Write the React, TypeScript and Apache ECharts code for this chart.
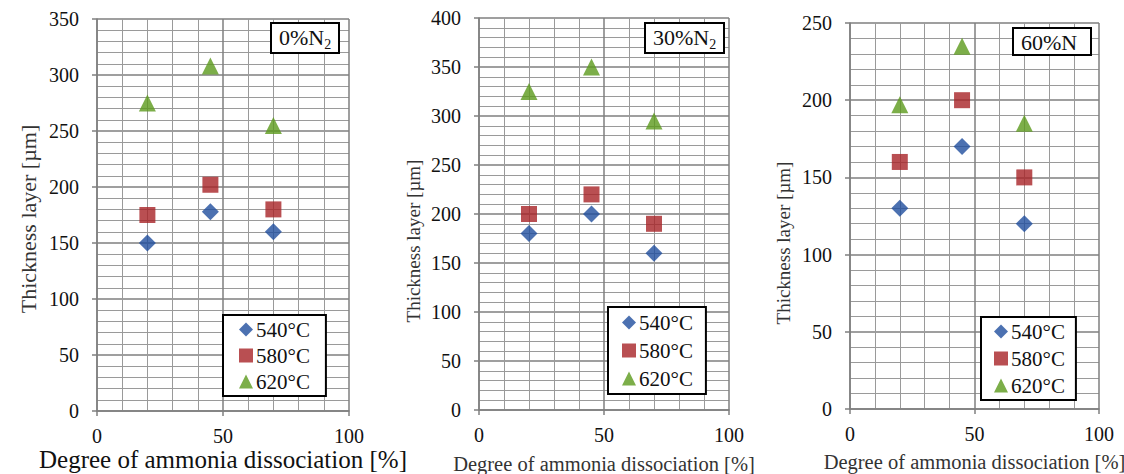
import React, { useEffect, useRef } from "react";
import * as echarts from "echarts";

// ---- data ----
const dissociation = [20, 45, 70];
const seriesNames = ["540°C", "580°C", "620°C"];
const seriesSymbols = ["diamond", "rect", "triangle"];
const seriesColors = ["#1F4E9E", "#A82327", "#5B9A1B"];

const n0_540 = [150, 178, 160];
const n0_580 = [175, 202, 180];
const n0_620 = [275, 308, 255];

const n30_540 = [180, 200, 160];
const n30_580 = [200, 220, 190];
const n30_620 = [325, 350, 295];

const n60_540 = [130, 170, 120];
const n60_580 = [160, 200, 150];
const n60_620 = [197, 235, 185];

const panelValues = [
  [n0_540, n0_580, n0_620],
  [n30_540, n30_580, n30_620],
  [n60_540, n60_580, n60_620],
];
const panelTitles = ["{n|0%N}{sub|2}", "{n|30%N}{sub|2}", "{n|60%N}"];
const yMaxes = [350, 400, 250];
const xMin = 0;
const xMax = 100;
const majorStep = 50;
const xAxisTitle = "Degree of ammonia dissociation [%]";
const yAxisTitle = "Thickness layer [µm]";

// ---- layout ----
const FONT = "'Liberation Serif', 'Times New Roman', serif";
const grids = [
  { left: 97, top: 19, width: 252, height: 392 },
  { left: 479, top: 18, width: 250, height: 392 },
  { left: 850, top: 23, width: 249, height: 386 },
];
const xNameFont = [25, 20.5, 20.5];
const xNameLineHeight = [24, 21, 21];
const yNameFont = [22, 19, 19];
const xNameGap = [36, 43, 42];
const yNameGap = [58, 56, 57];
const yNameShift = [8, 54, 54];
const titleBoxes = [
  { left: 271, top: 23, padding: [3, 8, 2, 8] },
  { left: 645, top: 23, padding: [3, 8, 2, 8] },
  { left: 1013, top: 28, padding: [3, 14, 2, 8] },
];
const legendBoxes = [
  { left: 223, top: 315, padding: [4, 16, 4, 16], itemGap: 5 },
  { left: 608, top: 307, padding: [5, 13, 5, 14], itemGap: 7 },
  { left: 981, top: 317, padding: [4, 11, 4, 13], itemGap: 6 },
];

export default function App() {
  const ref = useRef<HTMLDivElement>(null);
  useEffect(() => {
    document.body.style.margin = "0";
    const chart = echarts.init(ref.current!, undefined, { renderer: "svg" });
    const gridLine = { lineStyle: { color: "#7f7f7f", width: 1.5 } };
    const minorLine = { lineStyle: { color: "#9a9a9a", width: 1 } };
    const axisLine = { show: true, lineStyle: { color: "#7f7f7f", width: 1.5 } };
    const axisTick = { show: true, length: 5, lineStyle: { color: "#7f7f7f", width: 1.5 } };

    const xAxis = grids.map((_, i) => ({
      type: "value",
      gridIndex: i,
      min: xMin,
      max: xMax,
      interval: majorStep,
      name: xAxisTitle,
      nameLocation: "middle",
      nameGap: xNameGap[i],
      nameMoveOverlap: false,
      nameTextStyle: {
        fontFamily: FONT,
        fontSize: xNameFont[i],
        lineHeight: xNameLineHeight[i],
        color: i === 0 ? "#111" : "#333",
      },
      axisLine,
      axisTick,
      axisLabel: { fontFamily: FONT, fontSize: 20, lineHeight: 16, color: "#111", margin: 17 },
      splitLine: { show: true, ...gridLine },
      minorTick: { show: false, splitNumber: 5 },
      minorSplitLine: { show: true, ...minorLine },
    }));
    const yAxis = grids.map((_, i) => ({
      type: "value",
      gridIndex: i,
      min: 0,
      max: yMaxes[i],
      interval: majorStep,
      name: yAxisTitle,
      nameLocation: "middle",
      nameGap: yNameGap[i],
      nameMoveOverlap: false,
      nameTextStyle: {
        fontFamily: FONT,
        fontSize: yNameFont[i],
        color: "#333",
        padding: [0, yNameShift[i], 0, 0],
      },
      axisLine,
      axisTick,
      axisLabel: { fontFamily: FONT, fontSize: 20, color: "#111", margin: 18 },
      splitLine: { show: true, ...gridLine },
      minorTick: { show: false, splitNumber: 5 },
      minorSplitLine: { show: true, ...minorLine },
    }));

    const series: any[] = [];
    panelValues.forEach((vals, p) => {
      vals.forEach((v, s) => {
        series.push({
          type: "scatter",
          name: seriesNames[s],
          xAxisIndex: p,
          yAxisIndex: p,
          symbol: seriesSymbols[s],
          symbolSize: s === 1 ? 16 : 17,
          itemStyle: { color: seriesColors[s] },
          data: dissociation.map((x, k) => [x, v[k]]),
          z: 5,
        });
      });
    });

    chart.setOption({
      animation: false,
      textStyle: { fontFamily: FONT },
      title: panelTitles.map((t, i) => ({
        text: t,
        left: titleBoxes[i].left,
        top: titleBoxes[i].top,
        padding: titleBoxes[i].padding,
        borderColor: "#000",
        borderWidth: 2,
        backgroundColor: "#fff",
        textStyle: {
          fontFamily: FONT,
          fontWeight: "normal",
          rich: {
            n: { fontFamily: FONT, fontWeight: "normal", fontSize: 22, color: "#111", padding: [0, 0, 3, 0] },
            sub: { fontFamily: FONT, fontWeight: "normal", fontSize: 14, color: "#111", verticalAlign: "bottom" },
          },
        },
      })),
      legend: legendBoxes.map((b) => ({
        orient: "vertical",
        left: b.left,
        top: b.top,
        padding: b.padding,
        itemGap: b.itemGap,
        itemWidth: 14,
        itemHeight: 14,
        borderColor: "#000",
        borderWidth: 2,
        backgroundColor: "#fff",
        selectedMode: false,
        data: seriesNames,
        textStyle: { fontFamily: FONT, fontSize: 21, color: "#111", padding: [0, 0, 0, -2] },
      })),
      grid: grids.map((g) => ({ ...g, containLabel: false, outerBoundsMode: "none" })),
      xAxis,
      yAxis,
      series,
    });
    return () => chart.dispose();
  }, []);
  return <div ref={ref} style={{ width: 1124, height: 474 }} />;
}
